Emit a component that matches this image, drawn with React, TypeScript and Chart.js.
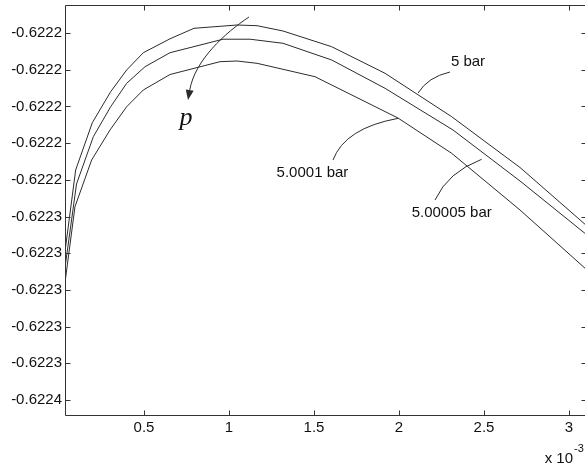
import React, { useEffect, useRef } from "react";
import { Chart, registerables } from "chart.js";
Chart.register(...registerables);

// x values are given in units of 1e-3 (axis shows "x 10^-3")
const X_EXP = 1e-3;
const X_MIN = 0.0353;
const X_MAX = 3.106;
const Y_MIN = -0.62236817;
const Y_MAX = -0.62214474;

const X_TICKS = [0.5, 1, 1.5, 2, 2.5, 3];
const X_TICK_LABELS = ["0.5", "1", "1.5", "2", "2.5", "3"];
const Y_TICKS = [-0.62216, -0.62218, -0.6222, -0.62222, -0.62224, -0.62226, -0.62228, -0.6223, -0.62232, -0.62234, -0.62236];
const Y_TICK_LABELS = ["-0.6222", "-0.6222", "-0.6222", "-0.6222", "-0.6222", "-0.6223", "-0.6223", "-0.6223", "-0.6223", "-0.6223", "-0.6224"];

// 5 bar
const X_5 = [0.035, 0.098, 0.196, 0.304, 0.398, 0.496, 0.653, 0.794, 1.047, 1.165, 1.318, 1.604, 1.918, 2.31, 2.712, 3.106];
const Y_5 = [-0.62227935, -0.62223466, -0.62220888, -0.62219199, -0.62218016, -0.62217074, -0.62216316, -0.62215744, -0.62215564, -0.62215602, -0.62215891, -0.62216747, -0.62218196, -0.62220561, -0.6222333, -0.62226518];
// 5.00005 bar
const X_500005 = [0.035, 0.103, 0.202, 0.304, 0.398, 0.506, 0.653, 0.965, 1.124, 1.318, 1.604, 1.918, 2.318, 2.712, 3.106];
const Y_500005 = [-0.62228807, -0.62224229, -0.62221651, -0.62220016, -0.62218741, -0.62217837, -0.62217074, -0.62216338, -0.62216338, -0.62216561, -0.62217471, -0.62219014, -0.62221286, -0.62224065, -0.62227008];
// 5.0001 bar
const X_50001 = [0.035, 0.094, 0.192, 0.3, 0.398, 0.496, 0.653, 0.947, 1.047, 1.165, 1.506, 1.994, 2.31, 2.712, 3.106];
const Y_50001 = [-0.62229624, -0.62225466, -0.62222921, -0.62221286, -0.62220016, -0.62219106, -0.62218262, -0.62217564, -0.62217526, -0.62217651, -0.62218381, -0.62220632, -0.62222556, -0.62225646, -0.62228916];

const SERIES = [
  { name: "5 bar", x: X_5, y: Y_5 },
  { name: "5.00005 bar", x: X_500005, y: Y_500005 },
  { name: "5.0001 bar", x: X_50001, y: Y_50001 },
];

// annotations in data coordinates (x in 1e-3 units)
const ARROW_P = { start: [1.1176, -0.62215128], c1: [0.9765, -0.62216], c2: [0.8, -0.62217471], tip: [0.7588, -0.62219651] };
const P_LABEL = { text: "p", at: [0.747, -0.62220632] };
const LABELS = [
  { text: "5 bar", at: [2.406, -0.6221758], from: [2.3, -0.62218125], ctrl: [2.171, -0.62218398], to: [2.112, -0.6221927] },
  { text: "5.0001 bar", at: [1.491, -0.62223602], from: [1.612, -0.62222921], ctrl: [1.682, -0.62221177], to: [1.996, -0.62220649] },
  { text: "5.00005 bar", at: [2.31, -0.62225826], from: [2.212, -0.62225101], ctrl: [2.288, -0.62223575], to: [2.486, -0.62222883] },
];

const INK = "#2b2b2b";
const FONT = '"Liberation Sans", Arial, Helvetica, sans-serif';

const decor = {
  id: "decor",
  afterDraw(chart: any) {
    const { ctx, chartArea: a } = chart;
    const xs = chart.scales.x;
    const ys = chart.scales.y;
    const PX = (v: number) => xs.getPixelForValue(v * X_EXP);
    const PY = (v: number) => ys.getPixelForValue(v);
    const L = Math.round(a.left) + 0.5;
    const R = Math.round(a.right) - 0.5;
    const T = Math.round(a.top) + 0.5;
    const B = Math.round(a.bottom) + 0.5;
    ctx.save();
    ctx.strokeStyle = "#333";
    ctx.lineWidth = 1;
    ctx.beginPath();
    ctx.moveTo(L, T); ctx.lineTo(R, T); ctx.lineTo(R, B); ctx.lineTo(L, B); ctx.closePath();
    X_TICKS.forEach((t) => {
      const p = Math.round(PX(t)) + 0.5;
      ctx.moveTo(p, B); ctx.lineTo(p, B - 5);
      ctx.moveTo(p, T); ctx.lineTo(p, T + 5);
    });
    Y_TICKS.forEach((t) => {
      const p = Math.round(PY(t)) + 0.5;
      ctx.moveTo(L, p); ctx.lineTo(L + 5, p);
      ctx.moveTo(R, p); ctx.lineTo(R - 5, p);
    });
    ctx.stroke();

    // arrow p
    ctx.strokeStyle = INK;
    ctx.fillStyle = INK;
    const s = [PX(ARROW_P.start[0]), PY(ARROW_P.start[1])];
    const c1 = [PX(ARROW_P.c1[0]), PY(ARROW_P.c1[1])];
    const c2 = [PX(ARROW_P.c2[0]), PY(ARROW_P.c2[1])];
    const tip = [PX(ARROW_P.tip[0]), PY(ARROW_P.tip[1])];
    let dx = tip[0] - c2[0], dy = tip[1] - c2[1];
    const len = Math.hypot(dx, dy); dx /= len; dy /= len;
    const hl = 10, hw = 4;
    const base = [tip[0] - dx * hl, tip[1] - dy * hl];
    ctx.beginPath();
    ctx.moveTo(s[0], s[1]);
    ctx.bezierCurveTo(c1[0], c1[1], c2[0], c2[1], base[0], base[1]);
    ctx.stroke();
    ctx.beginPath();
    ctx.moveTo(tip[0], tip[1]);
    ctx.lineTo(base[0] - dy * hw, base[1] + dx * hw);
    ctx.lineTo(base[0] + dy * hw, base[1] - dx * hw);
    ctx.closePath();
    ctx.fill();

    ctx.font = 'italic 26px "Liberation Serif", "DejaVu Serif", serif';
    ctx.textAlign = "center";
    ctx.textBaseline = "middle";
    ctx.fillStyle = "#111";
    ctx.fillText(P_LABEL.text, PX(P_LABEL.at[0]), PY(P_LABEL.at[1]));

    // leader lines & labels
    ctx.font = `15px ${FONT}`;
    LABELS.forEach((l) => {
      ctx.beginPath();
      ctx.moveTo(PX(l.from[0]), PY(l.from[1]));
      ctx.quadraticCurveTo(PX(l.ctrl[0]), PY(l.ctrl[1]), PX(l.to[0]), PY(l.to[1]));
      ctx.stroke();
      ctx.fillText(l.text, PX(l.at[0]), PY(l.at[1]));
    });

    // exponent label
    ctx.textBaseline = "alphabetic";
    ctx.textAlign = "right";
    ctx.font = `15px ${FONT}`;
    ctx.fillText("x 10", a.right - 14, 463);
    ctx.textAlign = "left";
    ctx.font = `11px ${FONT}`;
    ctx.fillText("-3", a.right - 13, 452);
    ctx.restore();
  },
};

export default function App() {
  const ref = useRef<HTMLCanvasElement>(null);
  useEffect(() => {
    const chart = new Chart(ref.current as HTMLCanvasElement, {
      type: "line",
      data: {
        datasets: SERIES.map((s) => ({
          label: s.name,
          data: s.x.map((xv, i) => ({ x: xv * X_EXP, y: s.y[i] })),
          borderColor: INK,
          borderWidth: 1,
          pointRadius: 0,
          tension: 0,
          fill: false,
        })),
      },
      options: {
        animation: false,
        responsive: false,
        devicePixelRatio: 1,
        layout: { padding: { top: 5, left: 0, right: 0, bottom: 0 } },
        plugins: { legend: { display: false }, tooltip: { enabled: false }, title: { display: false } },
        scales: {
          x: {
            type: "linear",
            min: X_MIN * X_EXP,
            max: X_MAX * X_EXP,
            afterBuildTicks: (sc: any) => { sc.ticks = X_TICKS.map((v) => ({ value: v * X_EXP })); },
            afterFit: (sc: any) => { sc.height = 58; sc.paddingLeft = 0; sc.paddingRight = 0; },
            grid: { display: false, drawTicks: false },
            border: { display: false },
            ticks: {
              autoSkip: false, maxRotation: 0, padding: 4, color: "#111",
              font: { family: FONT, size: 15 },
              callback: (_v: any, i: number) => X_TICK_LABELS[i],
            },
          },
          y: {
            type: "linear",
            min: Y_MIN,
            max: Y_MAX,
            afterBuildTicks: (sc: any) => { sc.ticks = Y_TICKS.map((v) => ({ value: v })); },
            afterFit: (sc: any) => { sc.width = 65; sc.paddingTop = 0; sc.paddingBottom = 0; },
            grid: { display: false, drawTicks: false },
            border: { display: false },
            ticks: {
              autoSkip: false, padding: 3, color: "#111",
              font: { family: FONT, size: 15 },
              callback: (_v: any, i: number) => Y_TICK_LABELS[i],
            },
          },
        },
      },
      plugins: [decor],
    });
    return () => chart.destroy();
  }, []);
  return (
    <div style={{ position: "fixed", left: 0, top: 0, width: 585, height: 473, overflow: "hidden", background: "#fff" }}>
      <canvas ref={ref} width={587} height={473} style={{ display: "block", width: 587, height: 473 }} />
    </div>
  );
}
